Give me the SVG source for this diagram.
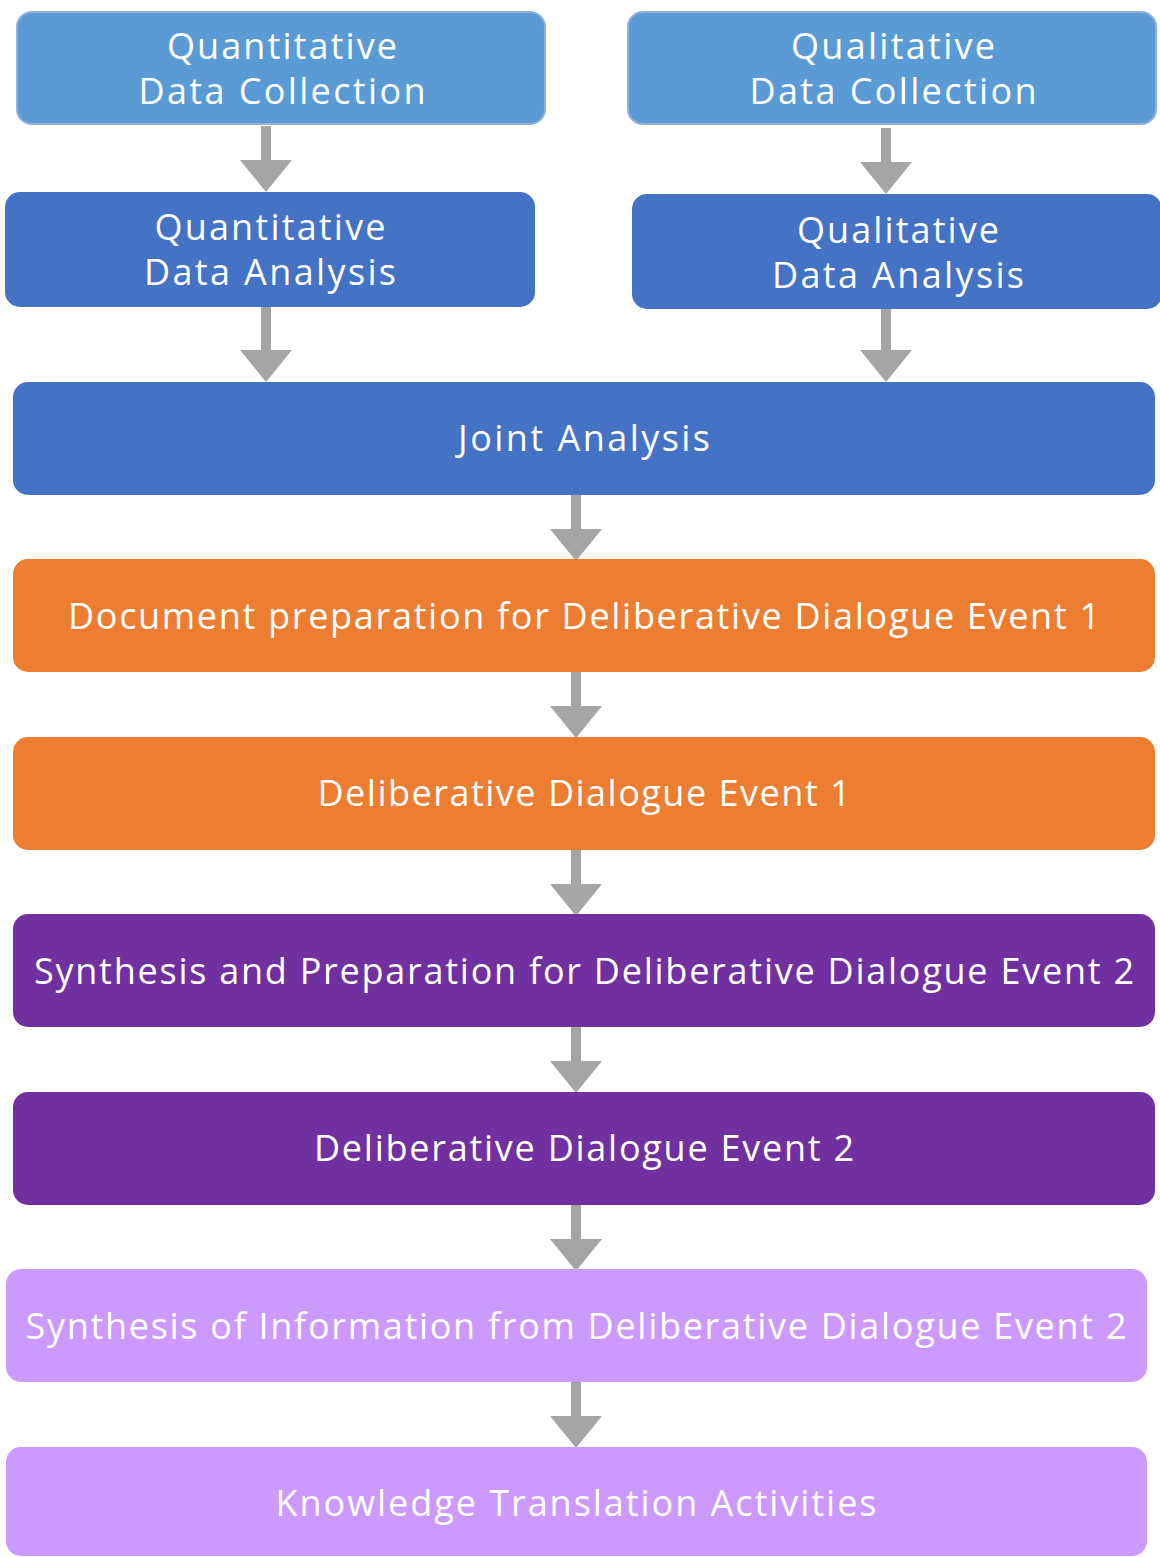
<svg xmlns="http://www.w3.org/2000/svg" width="1160" height="1557" viewBox="0 0 1160 1557">
<style>
text{font-family:"Open Sans","Noto Sans",sans-serif;font-size:36px;fill:#fff;text-anchor:middle}
.lb{fill:#5b9bd5;stroke:#8fb0e0;stroke-width:2}
.db{fill:#4472c4}
.or{fill:#ed7d31}
.pu{fill:#7030a0}
.lp{fill:#cc99ff}
.ar{fill:#a5a5a5}
</style>
<defs>
<path id="arr" d="M-5,0 H5 V34 H26 L0,66 L-26,34 H-5 Z"/>
<path id="arrL" d="M-5,0 H5 V43 H26 L0,75 L-26,43 H-5 Z"/>
</defs>
<g id="connectors" class="ar">
<use href="#arr" x="266" y="126"/>
<use href="#arr" x="886" y="128"/>
<use href="#arrL" x="266" y="307"/>
<use href="#arrL" x="886" y="307"/>
<use href="#arr" x="576" y="495"/>
<use href="#arr" x="576" y="672"/>
<use href="#arr" x="576" y="850"/>
<use href="#arr" x="576" y="1027"/>
<use href="#arr" x="576" y="1205"/>
<use href="#arr" x="576" y="1382"/>
</g>
<g id="n1"><rect class="lb" x="17" y="12" width="528" height="112" rx="15"/><text x="282" y="59" textLength="230" lengthAdjust="spacing">Quantitative</text><text x="282" y="104" textLength="287" lengthAdjust="spacing">Data Collection</text></g>
<g id="n2"><rect class="lb" x="628" y="12" width="528" height="112" rx="15"/><text x="893" y="59" textLength="204" lengthAdjust="spacing">Qualitative</text><text x="893" y="104" textLength="287" lengthAdjust="spacing">Data Collection</text></g>
<g id="n3"><rect class="db" x="5" y="192" width="530" height="115" rx="15"/><text x="270" y="240" textLength="231" lengthAdjust="spacing">Quantitative</text><text x="270" y="285" textLength="252" lengthAdjust="spacing">Data Analysis</text></g>
<g id="n4"><rect class="db" x="632" y="194" width="530" height="115" rx="15"/><text x="898" y="243" textLength="202" lengthAdjust="spacing">Qualitative</text><text x="898" y="288" textLength="252" lengthAdjust="spacing">Data Analysis</text></g>
<g id="n5"><rect class="db" x="13" y="382" width="1142" height="113" rx="15"/><text x="584" y="451" textLength="252" lengthAdjust="spacing">Joint Analysis</text></g>
<g id="n6"><rect class="or" x="13" y="559" width="1142" height="113" rx="15"/><text x="584" y="629" textLength="1032" lengthAdjust="spacing">Document preparation for Deliberative Dialogue Event 1</text></g>
<g id="n7"><rect class="or" x="13" y="737" width="1142" height="113" rx="15"/><text x="584" y="806" textLength="533" lengthAdjust="spacing">Deliberative Dialogue Event 1</text></g>
<g id="n8"><rect class="pu" x="13" y="914" width="1142" height="113" rx="15"/><text x="584" y="984" textLength="1100" lengthAdjust="spacing">Synthesis and Preparation for Deliberative Dialogue Event 2</text></g>
<g id="n9"><rect class="pu" x="13" y="1092" width="1142" height="113" rx="15"/><text x="584" y="1161" textLength="540" lengthAdjust="spacing">Deliberative Dialogue Event 2</text></g>
<g id="n10"><rect class="lp" x="6" y="1269" width="1141" height="113" rx="15"/><text x="576" y="1339" textLength="1101" lengthAdjust="spacing">Synthesis of Information from Deliberative Dialogue Event 2</text></g>
<g id="n11"><rect class="lp" x="6" y="1447" width="1141" height="109" rx="15"/><text x="576" y="1516" textLength="601" lengthAdjust="spacing">Knowledge Translation Activities</text></g>
</svg>
